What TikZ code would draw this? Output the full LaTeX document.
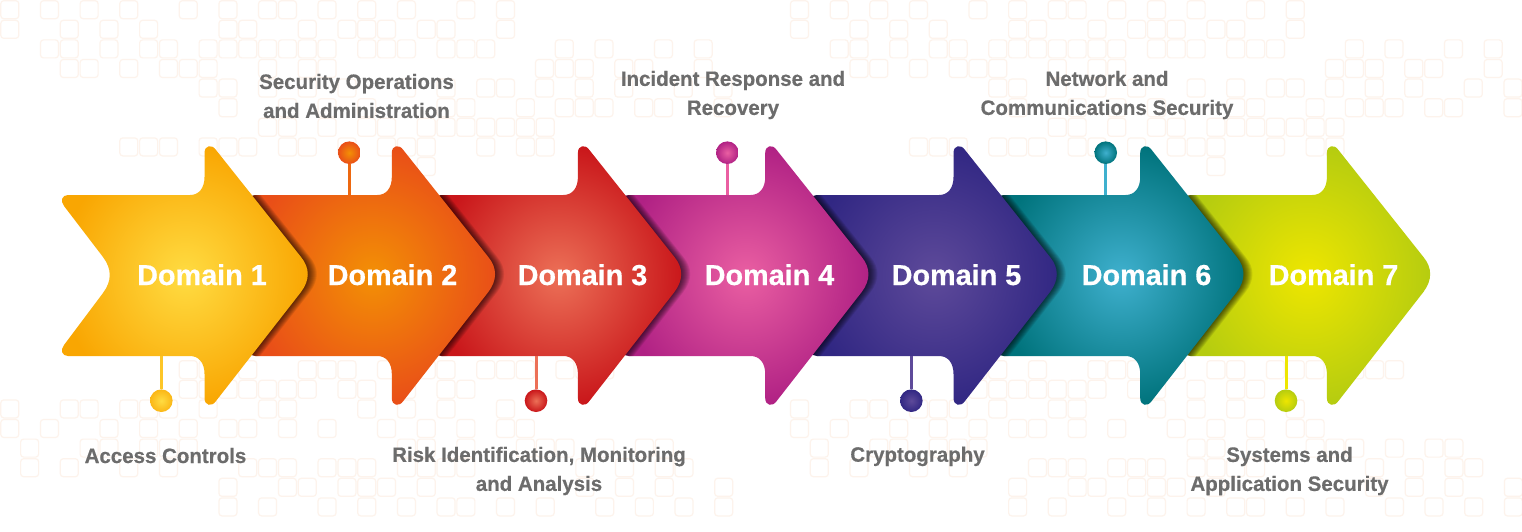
\documentclass[tikz,border=0pt]{standalone}
\usepackage{fontspec}
\setmainfont{Liberation Sans}
\newfontfamily\labfont[FakeStretch=0.985,BoldFeatures={FakeBold=0.5}]{Liberation Sans}
\newfontfamily\domfont[BoldFeatures={FakeBold=0.5}]{Liberation Sans}
\definecolor{gridcol}{HTML}{FDF3EC}
\definecolor{labcol}{HTML}{6C6C6C}
\definecolor{inA}{HTML}{FFDC42}\definecolor{outA}{HTML}{F9A602}
\definecolor{inB}{HTML}{F39005}\definecolor{outB}{HTML}{E94E18}
\definecolor{inC}{HTML}{EC7057}\definecolor{outC}{HTML}{C9161A}
\definecolor{inD}{HTML}{EA5FA2}\definecolor{outD}{HTML}{B02184}
\definecolor{inE}{HTML}{5E4A9A}\definecolor{outE}{HTML}{312783}
\definecolor{inF}{HTML}{3FB0CE}\definecolor{outF}{HTML}{00737C}
\definecolor{inG}{HTML}{EEE600}\definecolor{outG}{HTML}{B5CC10}
\tikzset{
  gridsq/.style={draw=gridcol,line width=1.2pt,rounded corners=3pt},
  domlabel/.style={text=white,font=\domfont\fontsize{28.8}{32}\selectfont\bfseries,inner sep=0pt,anchor=base},
  capt/.style={text=labcol,font=\labfont\fontsize{20.8}{29}\selectfont\bfseries,inner sep=0pt,align=center},
  pindot/.style={circle,minimum size=22.6pt,inner sep=0pt,shade,inner color=#1},
  stem/.style={line width=3pt,draw=#1},
}
\newcommand\arrowpath{(68,195) -- (190,195) .. controls (199,195) and (204.5,188) .. (204.5,177) -- (204.5,153) .. controls (204.5,145) and (212,144) .. (216,150) -- (301,257) .. controls (310,268) and (310,280) .. (301,292) -- (216,401) .. controls (212,407) and (204.5,406) .. (204.5,398) -- (204.5,374) .. controls (204.5,363) and (199,356) .. (190,356) -- (68,356) .. controls (62,356) and (60,350) .. (64,345) -- (103,293) .. controls (112,281) and (112,269) .. (103,257) -- (64,206) .. controls (60,201) and (62,195) .. (68,195) -- cycle}
\newcommand\gridrow[3]{\foreach \i in {#3} {\draw[gridsq] ({#1+19.83*\i},{#2}) rectangle ++(18,18);}}
\newcommand\tileA[1]{%
  \gridrow{#1}{0.7}{0,2,4,6,9,11,13,14,16,18,20,23,25}
  \gridrow{#1}{20.3}{0,3,5,7,11,12,15,17,18,19,21,22,25}
  \gridrow{#1}{39.9}{2,3,5,7,8,10,11,12,13,14,15,16,18,19,20,22,23,24}
  \gridrow{#1}{59.5}{3,4,6,8,9,10,13,15,16}
  \gridrow{#1}{79.1}{10,11,13,15,17,20,22,24,25}
  \gridrow{#1}{98.7}{11,14,16,18,22,23,26}
  \gridrow{#1}{118.3}{13,14,16,18,19,21,22,23,24,25,26,27}
  \gridrow{#1}{137.9}{6,7,8,10,11,12,14,15,17,19,20,21,24,26,27}
  \gridrow{#1}{157.5}{21}}
\newcommand\tileB[1]{%
  \gridrow{#1}{39.9}{1,3,6,8}
  \gridrow{#1}{59.5}{0,1,2,4,5,8}
  \gridrow{#1}{79.1}{0,2,4,7,9}
  \gridrow{#1}{98.7}{1,2,3,5,6,9}}
\newcommand\tileC[1]{%
  \gridrow{#1}{360.7}{9,10,12,15,16,17,19,21,22,24,25,26,28,29,30}
  \gridrow{#1}{380.3}{9,10,11,12,13,14,15,17,18,20,22,23}
  \gridrow{#1}{399.9}{0,3,4,6,7,8,10,13,14,18,20,22,25}
  \gridrow{#1}{419.5}{0,2,5,7,9,11,12,14,16,19,21,23,25,26}
  \gridrow{#1}{439.1}{1,4,5,7,8,9,20,21,23,26,27,28,30,32,33}
  \gridrow{#1}{458.7}{1,3,6,8,12,13,14,16,17,18,20,21,22,23,29,31,33,34}
  \gridrow{#1}{478.3}{11,14,15,17,18,19,21,29,31,33,36}
  \gridrow{#1}{497.9}{11,13,16,18,20,22,23,25,27,30,32,34,36}}
\newcommand\shadowon[2]{%
  \begin{scope}
    \path[clip,xshift=#1pt] \arrowpath;
    \foreach \s in {1,...,9} {\fill[black,fill opacity=0.085,xshift=#2pt+\s pt] \arrowpath;}
  \end{scope}}
\newcommand\shadedarrow[3]{\shade[xshift=#1pt,inner color=#2,outer color=#3] \arrowpath;}
\begin{document}
\begin{tikzpicture}[x=1pt,y=-1pt]
\useasboundingbox (0,0) rectangle (1522,532);
\fill[white] (0,0) rectangle (1522,532);
\tileA{0.8}\tileA{790.5}
\tileB{535.5}\tileB{1325.5}
\tileC{0.8}\tileC{790.5}
% arrows, last one first
\shadedarrow{1122.4}{inG}{outG}\shadowon{1122.4}{935.7}
\shadedarrow{935.7}{inF}{outF}\shadowon{935.7}{749}
\shadedarrow{749}{inE}{outE}\shadowon{749}{560.7}
\shadedarrow{560.7}{inD}{outD}\shadowon{560.7}{373.4}
\shadedarrow{373.4}{inC}{outC}\shadowon{373.4}{187.3}
\shadedarrow{187.3}{inB}{outB}\shadowon{187.3}{0}
\shadedarrow{0}{inA}{outA}
% domain labels
\node[domlabel] (d1) at (202,285) {Domain 1};
\node[domlabel] (d2) at (392.5,285) {Domain 2};
\node[domlabel] (d3) at (582.5,285) {Domain 3};
\node[domlabel] (d4) at (769.5,285) {Domain 4};
\node[domlabel] (d5) at (956.5,285) {Domain 5};
\node[domlabel] (d6) at (1146.5,285) {Domain 6};
\node[domlabel] (d7) at (1333.5,285) {Domain 7};
% pins
\coordinate (s1) at (161.3,356);
\coordinate (s2) at (349.3,195);
\coordinate (s3) at (536,356);
\coordinate (s4) at (727.3,195);
\coordinate (s5) at (911.3,356);
\coordinate (s6) at (1105.7,195);
\coordinate (s7) at (1286,356);
\node[pindot=inA,outer color=outA!70!inA] (p1) at (161.3,400.7) {};
\node[pindot=inB,outer color=outB] (p2) at (349.3,152.7) {};
\node[pindot=inC,outer color=outC] (p3) at (536,400.7) {};
\node[pindot=inD,outer color=outD] (p4) at (727.3,152.7) {};
\node[pindot=inE,outer color=outE] (p5) at (911.3,400.7) {};
\node[pindot=inF,outer color=outF] (p6) at (1105.7,152.7) {};
\node[pindot=inG,outer color=outG] (p7) at (1286,400.7) {};
\draw[stem=inA!60!outA] (s1) -- (p1);
\draw[stem=inB!40!outB] (s2) -- (p2);
\draw[stem=inC] (s3) -- (p3);
\draw[stem=inD] (s4) -- (p4);
\draw[stem=inE] (s5) -- (p5);
\draw[stem=inF] (s6) -- (p6);
\draw[stem=inG] (s7) -- (p7);
% captions
\node[capt] (c2) at (356.5,96) {Security Operations\\and Administration};
\node[capt] (c4) at (733,95) {Incident Response and\\Recovery};
\node[capt] (c6) at (1107,95) {Network and\\Communications Security};
\node[capt,anchor=base] (c1) at (165.5,463) {Access Controls};
\node[capt] (c3) at (539,471) {Risk Identification, Monitoring\\and Analysis};
\node[capt,anchor=base] (c5) at (917.5,461.7) {Cryptography};
\node[capt] (c7) at (1289.5,471) {Systems and\\Application Security};
\end{tikzpicture}
\end{document}
